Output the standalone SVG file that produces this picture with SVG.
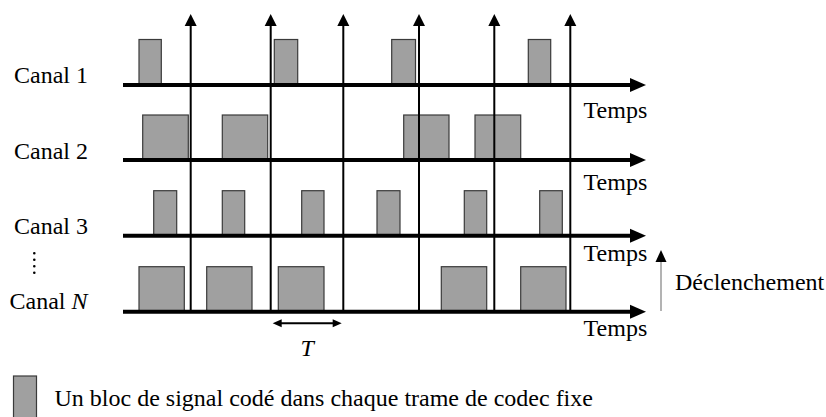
<svg xmlns="http://www.w3.org/2000/svg" width="826" height="417" viewBox="0 0 826 417">
<style>
.lbl{font-family:"Liberation Serif","Times New Roman",serif;font-size:24px;fill:#000}
.blk{fill:#a0a0a0;stroke:#3a3a3a;stroke-width:1.2}
.axis{stroke:#000;stroke-width:4;fill:none}
.vert{stroke:#000;stroke-width:2;fill:none}
</style>
<defs>
<marker id="ah" markerUnits="userSpaceOnUse" markerWidth="16" markerHeight="14" refX="2" refY="7" orient="auto" overflow="visible"><path d="M0,0 L16,7 L0,14 z" fill="#000"/></marker>
<marker id="av" markerUnits="userSpaceOnUse" markerWidth="12" markerHeight="12" refX="2" refY="6" orient="auto" overflow="visible"><path d="M0,0 L12,6 L0,12 z" fill="#000"/></marker>
<marker id="at" markerUnits="userSpaceOnUse" markerWidth="9" markerHeight="8" refX="1" refY="4" orient="auto-start-reverse" overflow="visible"><path d="M0,0 L9,4 L0,8 z" fill="#000"/></marker>
<marker id="ad" markerUnits="userSpaceOnUse" markerWidth="12" markerHeight="11" refX="0" refY="5.5" orient="auto" overflow="visible"><path d="M0,0 L12,5.5 L0,11 z" fill="#000"/></marker>
</defs>

<g id="canal1">
<rect class="blk" x="139" y="39.5" width="22.3" height="45.5"/>
<rect class="blk" x="274.3" y="39.5" width="23.4" height="45.5"/>
<rect class="blk" x="391.7" y="39.5" width="23.8" height="45.5"/>
<rect class="blk" x="528.3" y="39.5" width="22.4" height="45.5"/>
<text class="lbl" x="14" y="82.7">Canal 1</text>
</g>
<g id="canal2">
<rect class="blk" x="142.7" y="115" width="45.6" height="45"/>
<rect class="blk" x="222.3" y="115" width="45.4" height="45"/>
<rect class="blk" x="403.7" y="115" width="45.3" height="45"/>
<rect class="blk" x="475" y="115" width="45.7" height="45"/>
<text class="lbl" x="14" y="158.7">Canal 2</text>
</g>
<g id="canal3">
<rect class="blk" x="153.7" y="190.7" width="23" height="45"/>
<rect class="blk" x="222.3" y="190.7" width="22.4" height="45"/>
<rect class="blk" x="301.7" y="190.7" width="22.3" height="45"/>
<rect class="blk" x="377" y="190.7" width="23" height="45"/>
<rect class="blk" x="464.3" y="190.7" width="22.4" height="45"/>
<rect class="blk" x="539.7" y="190.7" width="22.6" height="45"/>
<text class="lbl" x="14" y="233.5">Canal 3</text>
</g>
<g id="canalN">
<rect class="blk" x="139" y="266.7" width="45.3" height="45"/>
<rect class="blk" x="206.7" y="266.7" width="45.3" height="45"/>
<rect class="blk" x="278.3" y="266.7" width="45.7" height="45"/>
<rect class="blk" x="441.3" y="266.7" width="45.4" height="45"/>
<rect class="blk" x="520.7" y="266.7" width="45.3" height="45"/>
<text class="lbl" x="9.5" y="309">Canal <tspan font-style="italic">N</tspan></text>
<line x1="34.3" y1="253.3" x2="34.3" y2="279.3" stroke="#000" stroke-width="2.6" stroke-linecap="round" stroke-dasharray="0 6.5"/>
</g>

<g id="connectors">
<line class="axis" x1="123" y1="85" x2="632" y2="85" marker-end="url(#ah)"/>
<line class="axis" x1="123" y1="160" x2="632" y2="160" marker-end="url(#ah)"/>
<line class="axis" x1="123" y1="235.7" x2="632" y2="235.7" marker-end="url(#ah)"/>
<line class="axis" x1="123" y1="311.7" x2="632" y2="311.7" marker-end="url(#ah)"/>
<line class="vert" x1="190.7" y1="311.7" x2="190.7" y2="24" marker-end="url(#av)"/>
<line class="vert" x1="270.7" y1="311.7" x2="270.7" y2="24" marker-end="url(#av)"/>
<line class="vert" x1="343.3" y1="311.7" x2="343.3" y2="24" marker-end="url(#av)"/>
<line class="vert" x1="419" y1="311.7" x2="419" y2="24" marker-end="url(#av)"/>
<line class="vert" x1="494.3" y1="311.7" x2="494.3" y2="24" marker-end="url(#av)"/>
<line class="vert" x1="570.3" y1="311.7" x2="570.3" y2="24" marker-end="url(#av)"/>
<line x1="280.7" y1="323.3" x2="333.7" y2="323.3" stroke="#000" stroke-width="2" marker-start="url(#at)" marker-end="url(#at)"/>
<line x1="661" y1="311" x2="661" y2="262" stroke="#808080" stroke-width="1.2" marker-end="url(#ad)"/>
</g>

<g id="labels">
<text class="lbl" x="583.6" y="117.8">Temps</text>
<text class="lbl" x="583.6" y="190.3">Temps</text>
<text class="lbl" x="583.6" y="261">Temps</text>
<text class="lbl" x="583.6" y="336.3">Temps</text>
<text class="lbl" x="675" y="289.5">Déclenchement</text>
<text class="lbl" x="307.3" y="356" text-anchor="middle" font-style="italic">T</text>
</g>

<g id="legend">
<rect class="blk" x="13.5" y="376" width="23" height="45"/>
<text class="lbl" x="54.5" y="406">Un bloc de signal codé dans chaque trame de codec fixe</text>
</g>
</svg>
